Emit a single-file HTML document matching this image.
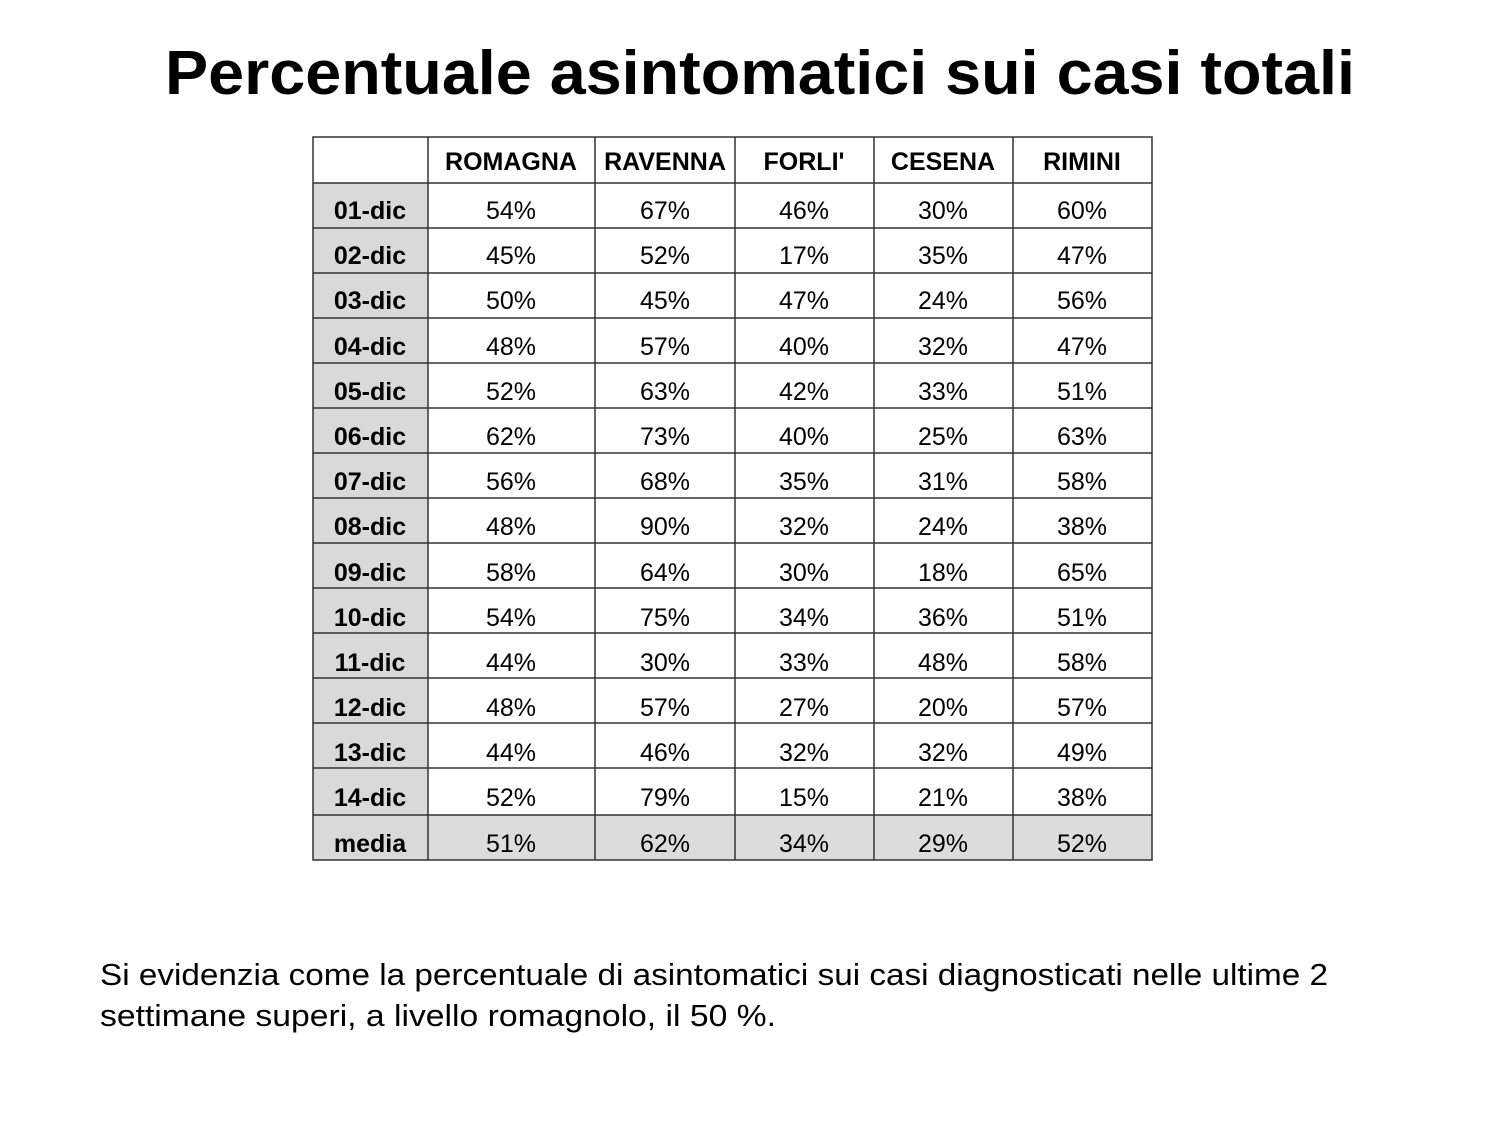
<!DOCTYPE html>
<html><head><style>body{margin:0;background:#fff}</style></head><body>
<svg width="1500" height="1125" xmlns="http://www.w3.org/2000/svg" font-family="Liberation Sans, sans-serif">
<rect width="1500" height="1125" fill="#fff"/>
<text x="760" y="94" text-anchor="middle" font-size="62" font-weight="bold" textLength="1190" lengthAdjust="spacingAndGlyphs">Percentuale asintomatici sui casi totali</text>
<rect x="313" y="183" width="115" height="677" fill="#d9d9d9"/>
<rect x="428" y="815" width="724" height="45" fill="#dcdcdc"/>
<g stroke="#333" stroke-width="1.5" fill="none">
<rect x="313" y="137" width="839" height="723"/>
<line x1="428" y1="137" x2="428" y2="860"/>
<line x1="595" y1="137" x2="595" y2="860"/>
<line x1="735" y1="137" x2="735" y2="860"/>
<line x1="874" y1="137" x2="874" y2="860"/>
<line x1="1013" y1="137" x2="1013" y2="860"/>
<line x1="313" y1="183" x2="1152" y2="183"/><line x1="313" y1="228" x2="1152" y2="228"/><line x1="313" y1="273" x2="1152" y2="273"/><line x1="313" y1="318" x2="1152" y2="318"/><line x1="313" y1="363" x2="1152" y2="363"/><line x1="313" y1="408" x2="1152" y2="408"/><line x1="313" y1="453" x2="1152" y2="453"/><line x1="313" y1="498" x2="1152" y2="498"/><line x1="313" y1="543" x2="1152" y2="543"/><line x1="313" y1="588" x2="1152" y2="588"/><line x1="313" y1="633" x2="1152" y2="633"/><line x1="313" y1="678" x2="1152" y2="678"/><line x1="313" y1="723" x2="1152" y2="723"/><line x1="313" y1="768" x2="1152" y2="768"/><line x1="313" y1="815" x2="1152" y2="815"/>
</g>
<g font-size="25" text-anchor="middle" font-weight="bold">
<text x="511" y="170">ROMAGNA</text><text x="665" y="170">RAVENNA</text><text x="804" y="170">FORLI'</text><text x="943" y="170">CESENA</text><text x="1082" y="170">RIMINI</text>
</g>
<g font-size="25" text-anchor="middle" font-weight="bold">
<text x="370" y="219">01-dic</text><text x="370" y="264">02-dic</text><text x="370" y="309">03-dic</text><text x="370" y="355">04-dic</text><text x="370" y="400">05-dic</text><text x="370" y="445">06-dic</text><text x="370" y="490">07-dic</text><text x="370" y="535">08-dic</text><text x="370" y="581">09-dic</text><text x="370" y="626">10-dic</text><text x="370" y="671">11-dic</text><text x="370" y="716">12-dic</text><text x="370" y="761">13-dic</text><text x="370" y="806">14-dic</text><text x="370" y="852">media</text>
</g>
<g font-size="25" text-anchor="middle">
<text x="511" y="219">54%</text><text x="665" y="219">67%</text><text x="804" y="219">46%</text><text x="943" y="219">30%</text><text x="1082" y="219">60%</text>
<text x="511" y="264">45%</text><text x="665" y="264">52%</text><text x="804" y="264">17%</text><text x="943" y="264">35%</text><text x="1082" y="264">47%</text>
<text x="511" y="309">50%</text><text x="665" y="309">45%</text><text x="804" y="309">47%</text><text x="943" y="309">24%</text><text x="1082" y="309">56%</text>
<text x="511" y="355">48%</text><text x="665" y="355">57%</text><text x="804" y="355">40%</text><text x="943" y="355">32%</text><text x="1082" y="355">47%</text>
<text x="511" y="400">52%</text><text x="665" y="400">63%</text><text x="804" y="400">42%</text><text x="943" y="400">33%</text><text x="1082" y="400">51%</text>
<text x="511" y="445">62%</text><text x="665" y="445">73%</text><text x="804" y="445">40%</text><text x="943" y="445">25%</text><text x="1082" y="445">63%</text>
<text x="511" y="490">56%</text><text x="665" y="490">68%</text><text x="804" y="490">35%</text><text x="943" y="490">31%</text><text x="1082" y="490">58%</text>
<text x="511" y="535">48%</text><text x="665" y="535">90%</text><text x="804" y="535">32%</text><text x="943" y="535">24%</text><text x="1082" y="535">38%</text>
<text x="511" y="581">58%</text><text x="665" y="581">64%</text><text x="804" y="581">30%</text><text x="943" y="581">18%</text><text x="1082" y="581">65%</text>
<text x="511" y="626">54%</text><text x="665" y="626">75%</text><text x="804" y="626">34%</text><text x="943" y="626">36%</text><text x="1082" y="626">51%</text>
<text x="511" y="671">44%</text><text x="665" y="671">30%</text><text x="804" y="671">33%</text><text x="943" y="671">48%</text><text x="1082" y="671">58%</text>
<text x="511" y="716">48%</text><text x="665" y="716">57%</text><text x="804" y="716">27%</text><text x="943" y="716">20%</text><text x="1082" y="716">57%</text>
<text x="511" y="761">44%</text><text x="665" y="761">46%</text><text x="804" y="761">32%</text><text x="943" y="761">32%</text><text x="1082" y="761">49%</text>
<text x="511" y="806">52%</text><text x="665" y="806">79%</text><text x="804" y="806">15%</text><text x="943" y="806">21%</text><text x="1082" y="806">38%</text>
<text x="511" y="852">51%</text><text x="665" y="852">62%</text><text x="804" y="852">34%</text><text x="943" y="852">29%</text><text x="1082" y="852">52%</text>
</g>
<text x="100" y="985" font-size="31" textLength="1228" lengthAdjust="spacingAndGlyphs">Si evidenzia come la percentuale di asintomatici sui casi diagnosticati nelle ultime 2</text>
<text x="100" y="1026" font-size="31" textLength="676" lengthAdjust="spacingAndGlyphs">settimane superi, a livello romagnolo, il  50 %.</text>
</svg>
</body></html>
